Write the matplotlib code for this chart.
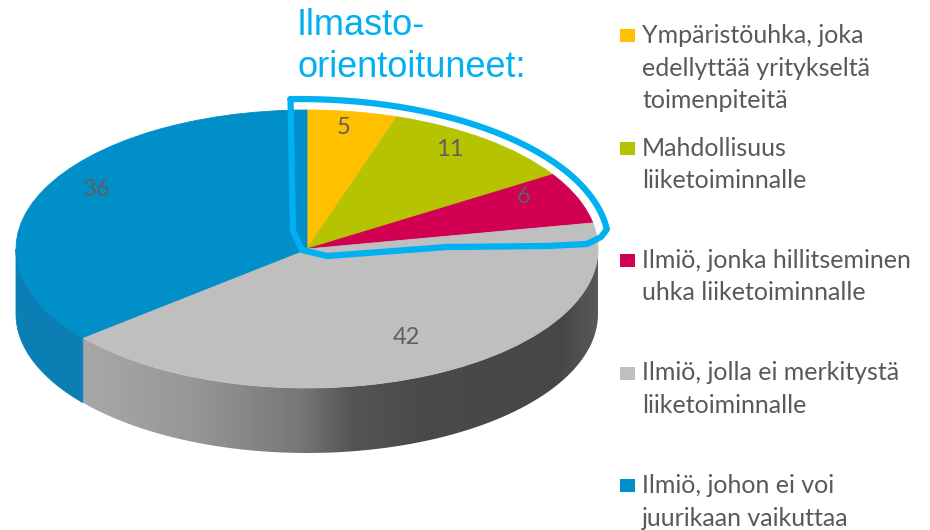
import numpy as np
import matplotlib.pyplot as plt
from matplotlib.patches import Polygon, Rectangle
from matplotlib.colors import LinearSegmentedColormap
from matplotlib.transforms import Affine2D

# data
values = [5, 11, 6, 42, 36]
legend_labels = [
    "Ympäristöuhka, joka\nedellyttää yritykseltä\ntoimenpiteitä",
    "Mahdollisuus\nliiketoiminnalle",
    "Ilmiö, jonka hillitseminen\nuhka liiketoiminnalle",
    "Ilmiö, jolla ei merkitystä\nliiketoiminnalle",
    "Ilmiö, johon ei voi\njuurikaan vaikuttaa",
]
top_colors = ['#ffc000', '#b6c300', '#d20052', '#bfbfbf', '#008fc8']
side_colors = ['#cc9a00', '#919c00', '#a8003f', 'gradient', '#0b7fb3']
title = "Ilmasto-\norientoituneet:"

W, H = 930, 530
cx, cy, rx, ry, depth = 307, 249, 291, 139, 65
k = ry / rx

fig = plt.figure(figsize=(9.3, 5.3), dpi=100)
ax = fig.add_axes([0, 0, 1, 1])

def dy(y):
    # pixel y (from top) -> stretched data y
    return (H - y) / k

Y0 = dy(cy)
wedges, texts, autotexts = ax.pie(
    values, colors=top_colors, startangle=90, counterclock=False,
    radius=rx, center=(cx, Y0), pctdistance=0.8,
    autopct=lambda p: f'{p * sum(values) / 100:.0f}',
    textprops=dict(fontsize=17, family='Lato', color='#5f5f5f'))
for w in wedges:
    w.set_edgecolor(w.get_facecolor())
    w.set_linewidth(0.6)
    w.set_zorder(2)
for t in autotexts:
    x, y = t.get_position()
    t.set_position((x, y + 12 / k))
    t.set_zorder(3)

ax.set_xlim(0, W)
ax.set_ylim(0, H / k)
ax.set_aspect('auto')
ax.axis('off')

# side of the 3D pie (only front half visible)
grey_cmap = LinearSegmentedColormap.from_list('side', [
    (0.0, '#b0b0b0'), (70 / W, '#aaaaaa'), (200 / W, '#959595'),
    (300 / W, '#767676'), (350 / W, '#555555'), (420 / W, '#4a4a4a'),
    (560 / W, '#474747'), (600 / W, '#5a5a5a'), (1.0, '#5a5a5a')])
h = depth / k
for w, sc in zip(wedges, side_colors):
    for shift in (-360, 0, 360):
        a = max(w.theta1 + shift, 180)
        b = min(w.theta2 + shift, 360)
        if b <= a:
            continue
        t = np.radians(np.linspace(a, b, 80))
        top = np.column_stack([cx + rx * np.cos(t), Y0 + rx * np.sin(t)])
        bot = top[::-1] - [0, h]
        verts = np.vstack([top, bot])
        if sc == 'gradient':
            poly = Polygon(verts, closed=True, facecolor='none', edgecolor='none')
            ax.add_patch(poly)
            grad = np.linspace(0, 1, 400).reshape(1, -1)
            im = ax.imshow(grad, cmap=grey_cmap, extent=[0, W, 0, H / k],
                           aspect='auto', zorder=1, origin='lower')
            im.set_clip_path(poly)
        else:
            ax.add_patch(Polygon(verts, closed=True, facecolor=sc,
                                 edgecolor=sc, lw=0.6, zorder=1))
ax.set_xlim(0, W)
ax.set_ylim(0, H / k)

# hand-drawn highlight around the first three slices
end_theta = wedges[2].theta1
th = np.linspace(93, end_theta - 3, 60)
s = np.linspace(1.08, 1.04, 60)
arc = np.column_stack([cx + s * rx * np.cos(np.radians(th)),
                       Y0 + s * rx * np.sin(np.radians(th))])
back = np.array([[cx + 294, dy(cy - 12)], [cx + 280, dy(cy - 5)],
                 [cx + 240, dy(cy - 3)],
                 [cx + 140, dy(cy - 2)], [cx + 60, dy(cy + 4)],
                 [cx + 20, dy(cy + 7)], [cx - 5, dy(cy + 1)],
                 [cx - 14, dy(cy - 18)], [cx - 16, dy(cy - 125)], arc[0]])
loop = np.vstack([arc, back])
ax.plot(loop[:, 0], loop[:, 1], color='#00b0f0', lw=4.5,
        solid_joinstyle='round', solid_capstyle='round', zorder=4)

# pixel coordinates for legend and title
pix = Affine2D().scale(1 / W, -1 / H).translate(0, 1) + fig.transFigure

for j, line in enumerate(title.split('\n')):
    fig.text(297, 35 + j * 42, line, transform=pix, fontsize=26,
             family='Liberation Sans', color='#00b0f0', ha='left',
             va='baseline')

for i, (lab, col) in enumerate(zip(legend_labels, top_colors)):
    base = 43 + i * 112.5
    fig.patches.append(Rectangle((620, base - 1), 15, -13, transform=pix,
                                 facecolor=col, edgecolor='none'))
    for j, line in enumerate(lab.split('\n')):
        fig.text(642, base + j * 32.5, line, transform=pix, fontsize=18,
                 family='Lato', color='#595959', ha='left', va='baseline')

fig.savefig('out.png', dpi=100)
